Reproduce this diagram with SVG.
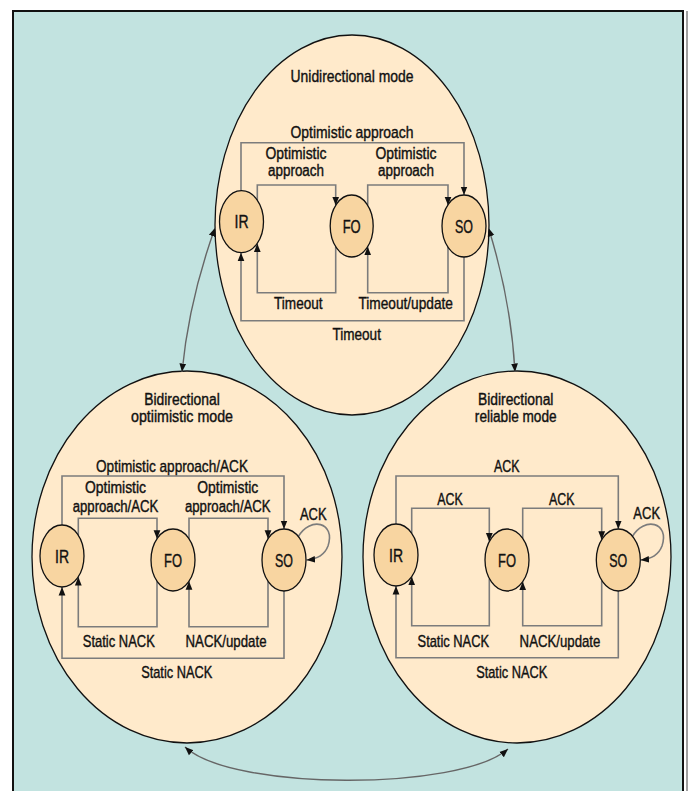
<svg xmlns="http://www.w3.org/2000/svg" width="692" height="791" viewBox="0 0 692 791">
  <defs>
    <marker id="ah" viewBox="0 0 10 10" refX="10" refY="5" markerWidth="8.5" markerHeight="8.5" markerUnits="userSpaceOnUse" orient="auto-start-reverse">
      <path d="M0,1 L10,5 L0,9 z" fill="#111"/>
    </marker>
    <style>
      .mode { fill:#FFEACB; stroke:#111; stroke-width:1.3; }
      .state { fill:#F8D5A1; stroke:#111; stroke-width:1.3; }
      .edge { fill:none; stroke:#7C7C7C; stroke-width:1.6; marker-end:url(#ah); }
      .link { fill:none; stroke:#666; stroke-width:1.4; marker-start:url(#ah); marker-end:url(#ah); }
      text { font-family:"Liberation Sans Narrow","Liberation Sans",Arial,sans-serif; font-size:17px; text-anchor:middle; fill:#111; stroke:#111; stroke-width:0.4; }
      .st { font-size:18px; }
      .two { font-size:16px; }
    </style>
  </defs>

  <!-- page and panel -->
  <rect x="0" y="0" width="692" height="791" fill="#FFFFFF"/>
  <rect x="13" y="11" width="670" height="800" fill="#C2E3E0" stroke="#111" stroke-width="2"/>
  <line x1="687" y1="11" x2="687" y2="791" stroke="#A0A0A0" stroke-width="2"/>

  <!-- mode regions -->
  <g id="mode-unidirectional">
    <ellipse class="mode" cx="352" cy="225" rx="137" ry="190"/>
    <text x="352" y="82" textLength="123" lengthAdjust="spacingAndGlyphs">Unidirectional mode</text>
  </g>
  <g id="mode-bidirectional-optimistic">
    <ellipse class="mode" cx="187" cy="557" rx="155" ry="186"/>
    <text class="two" x="182" y="405" textLength="75.5" lengthAdjust="spacingAndGlyphs">Bidirectional</text>
    <text class="two" x="182" y="421.7" textLength="102" lengthAdjust="spacingAndGlyphs">optiimistic mode</text>
  </g>
  <g id="mode-bidirectional-reliable">
    <ellipse class="mode" cx="517" cy="557" rx="154" ry="186"/>
    <text class="two" x="515.7" y="405" textLength="75.5" lengthAdjust="spacingAndGlyphs">Bidirectional</text>
    <text class="two" x="515.7" y="421.7" textLength="81.7" lengthAdjust="spacingAndGlyphs">reliable mode</text>
  </g>

  <!-- transitions -->
  <g id="connectors">
    <!-- between modes -->
    <path class="link" d="M182,372 Q189,300 215,228"/>
    <path class="link" d="M515,372 Q511,300 488.5,228"/>
    <path class="link" d="M185,747 C232,791 460,791 508,749"/>

    <!-- unidirectional mode -->
    <path class="edge" d="M241,190.7 V142.7 H464 V195"/>
    <path class="edge" d="M257.3,200 V185 H335.7 V205.3"/>
    <path class="edge" d="M367.7,205.3 V185 H448 V205.3"/>
    <path class="edge" d="M335.7,246.7 V292.7 H257.3 V243.6"/>
    <path class="edge" d="M448,246.7 V292.7 H367.7 V246.7"/>
    <path class="edge" d="M464,257 V320.7 H241 V252.7"/>

    <!-- bidirectional optimistic mode -->
    <path class="edge" d="M62,525 V476 H284 V529"/>
    <path class="edge" d="M78.3,535 V518.3 H157 V538.7"/>
    <path class="edge" d="M189,538.7 V518.3 H268 V538.7"/>
    <path class="edge" d="M157,581.3 V626.7 H78.3 V577"/>
    <path class="edge" d="M268,581.3 V626.7 H189 V581.3"/>
    <path class="edge" d="M284,591 V658.3 H62 V587"/>
    <path class="edge" d="M298,537 C310,516 336,522 328,546 C325,554 318,559 306.5,560"/>

    <!-- bidirectional reliable mode -->
    <path class="edge" d="M396,524 V476 H618.3 V529"/>
    <path class="edge" d="M411.7,533.3 V508.3 H489.3 V541.6"/>
    <path class="edge" d="M522.7,538.3 V508.3 H601.7 V539.7"/>
    <path class="edge" d="M489.3,578.4 V625.7 H411.7 V576.7"/>
    <path class="edge" d="M601.7,580.3 V625.7 H522.7 V581.7"/>
    <path class="edge" d="M618.3,591 V657.7 H396 V586"/>
    <path class="edge" d="M632,537 C644,516 670,522 662,546 C659,554 652,559 640.5,560"/>
  </g>

  <!-- transition labels -->
  <g id="edge-labels">
    <text x="352" y="138.3" textLength="123" lengthAdjust="spacingAndGlyphs">Optimistic approach</text>
    <text class="two" x="296" y="159" textLength="61" lengthAdjust="spacingAndGlyphs">Optimistic</text>
    <text class="two" x="296" y="176" textLength="56" lengthAdjust="spacingAndGlyphs">approach</text>
    <text class="two" x="406" y="159" textLength="61" lengthAdjust="spacingAndGlyphs">Optimistic</text>
    <text class="two" x="406" y="176" textLength="56" lengthAdjust="spacingAndGlyphs">approach</text>
    <text x="298.3" y="309" textLength="48.5" lengthAdjust="spacingAndGlyphs">Timeout</text>
    <text x="405.7" y="309" textLength="94.5" lengthAdjust="spacingAndGlyphs">Timeout/update</text>
    <text x="356.7" y="340" textLength="48.5" lengthAdjust="spacingAndGlyphs">Timeout</text>

    <text x="172" y="471.7" textLength="152" lengthAdjust="spacingAndGlyphs">Optimistic approach/ACK</text>
    <text class="two" x="115.5" y="493" textLength="61" lengthAdjust="spacingAndGlyphs">Optimistic</text>
    <text class="two" x="115.5" y="511.7" textLength="85.7" lengthAdjust="spacingAndGlyphs">approach/ACK</text>
    <text class="two" x="227.8" y="493" textLength="61" lengthAdjust="spacingAndGlyphs">Optimistic</text>
    <text class="two" x="227.8" y="511.7" textLength="85.7" lengthAdjust="spacingAndGlyphs">approach/ACK</text>
    <text x="313.3" y="520" textLength="26.7" lengthAdjust="spacingAndGlyphs">ACK</text>
    <text x="118.8" y="646.7" textLength="72" lengthAdjust="spacingAndGlyphs">Static NACK</text>
    <text x="226" y="646.7" textLength="81" lengthAdjust="spacingAndGlyphs">NACK/update</text>
    <text x="176.7" y="678.3" textLength="71" lengthAdjust="spacingAndGlyphs">Static NACK</text>

    <text x="506.7" y="471.7" textLength="25.5" lengthAdjust="spacingAndGlyphs">ACK</text>
    <text x="450" y="505" textLength="25.5" lengthAdjust="spacingAndGlyphs">ACK</text>
    <text x="561.7" y="505" textLength="25.5" lengthAdjust="spacingAndGlyphs">ACK</text>
    <text x="646.7" y="519.3" textLength="26.7" lengthAdjust="spacingAndGlyphs">ACK</text>
    <text x="453.3" y="646.7" textLength="71.5" lengthAdjust="spacingAndGlyphs">Static NACK</text>
    <text x="560" y="646.7" textLength="80.8" lengthAdjust="spacingAndGlyphs">NACK/update</text>
    <text x="511.7" y="678.3" textLength="71" lengthAdjust="spacingAndGlyphs">Static NACK</text>
  </g>

  <!-- states: unidirectional mode -->
  <g id="uni-IR"><ellipse class="state" cx="241.5" cy="221.7" rx="22" ry="31"/><text class="st" x="241.5" y="228" textLength="14" lengthAdjust="spacingAndGlyphs">IR</text></g>
  <g id="uni-FO"><ellipse class="state" cx="351.7" cy="226" rx="21.5" ry="31"/><text class="st" x="351.7" y="232.5" textLength="18" lengthAdjust="spacingAndGlyphs">FO</text></g>
  <g id="uni-SO"><ellipse class="state" cx="464" cy="226" rx="22" ry="31"/><text class="st" x="464" y="232.5" textLength="18" lengthAdjust="spacingAndGlyphs">SO</text></g>

  <!-- states: bidirectional optimistic mode -->
  <g id="bo-IR"><ellipse class="state" cx="62" cy="556" rx="22" ry="31"/><text class="st" x="62" y="562.5" textLength="14" lengthAdjust="spacingAndGlyphs">IR</text></g>
  <g id="bo-FO"><ellipse class="state" cx="173" cy="560" rx="22" ry="31"/><text class="st" x="173" y="566.5" textLength="18" lengthAdjust="spacingAndGlyphs">FO</text></g>
  <g id="bo-SO"><ellipse class="state" cx="284" cy="560" rx="22" ry="31"/><text class="st" x="284" y="566.5" textLength="18" lengthAdjust="spacingAndGlyphs">SO</text></g>

  <!-- states: bidirectional reliable mode -->
  <g id="br-IR"><ellipse class="state" cx="396" cy="555" rx="22" ry="31"/><text class="st" x="396" y="561.5" textLength="14" lengthAdjust="spacingAndGlyphs">IR</text></g>
  <g id="br-FO"><ellipse class="state" cx="507" cy="560" rx="22" ry="31"/><text class="st" x="507" y="566.5" textLength="18" lengthAdjust="spacingAndGlyphs">FO</text></g>
  <g id="br-SO"><ellipse class="state" cx="618.3" cy="560" rx="22" ry="31"/><text class="st" x="618.3" y="566.5" textLength="18" lengthAdjust="spacingAndGlyphs">SO</text></g>
</svg>
